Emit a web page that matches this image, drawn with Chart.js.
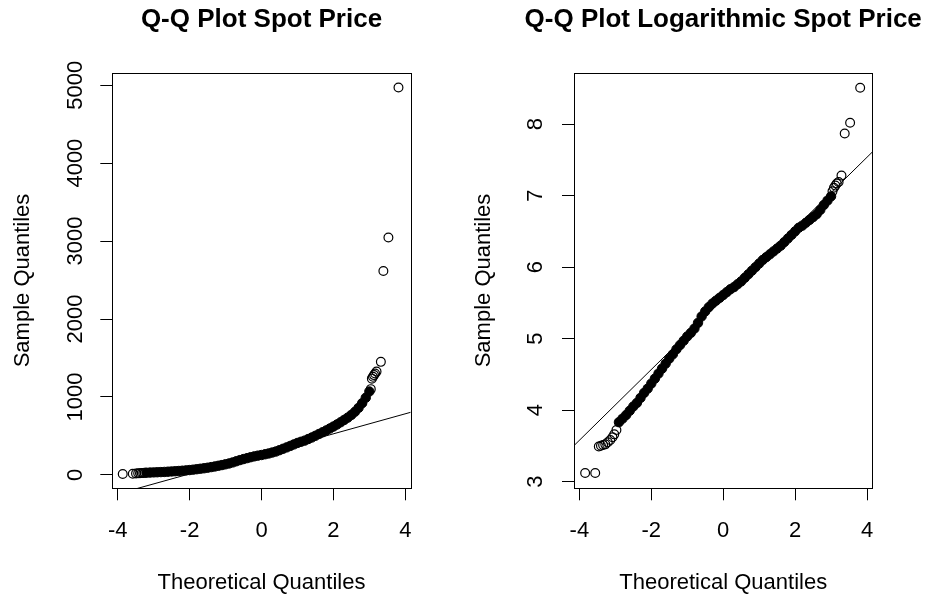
<!DOCTYPE html>
<html>
<head>
<meta charset="utf-8">
<title>Q-Q Plots Spot Price</title>
<script src="https://cdn.jsdelivr.net/npm/chart.js@4.4.1/dist/chart.umd.min.js"></script>
<style>
  html, body { margin: 0; padding: 0; background: #fff; }
  #wrap { position: relative; width: 927px; height: 595px; }
  canvas { position: absolute; top: 0; }
  #spot { left: 0; }
  #logspot { left: 463px; }
</style>
</head>
<body>
<div id="wrap">
  <canvas id="spot" width="463" height="595"></canvas>
  <canvas id="logspot" width="464" height="595"></canvas>
</div>
<script>
// ticks
const xTicks = [-4, -2, 0, 2, 4];
const spotTicks = [0, 1000, 2000, 3000, 4000, 5000];
const logTicks = [3, 4, 5, 6, 7, 8];

// spot price: dense middle part of the sample
const spotTheo = [-3.2, -3.1, -3.0, -2.9, -2.8, -2.7, -2.6, -2.5, -2.4, -2.3, -2.2, -2.1,
  -2.0, -1.9, -1.8, -1.7, -1.6, -1.5, -1.4, -1.3, -1.2, -1.1, -1.0, -0.9, -0.8, -0.7,
  -0.6, -0.5, -0.4, -0.3, -0.2, -0.1, 0.0, 0.1, 0.2, 0.3, 0.4, 0.5, 0.6, 0.7, 0.8, 0.9,
  1.0, 1.1, 1.2, 1.3, 1.4, 1.5, 1.6, 1.7, 1.8, 1.9, 2.0, 2.1, 2.2, 2.3, 2.4, 2.5, 2.6,
  2.7, 2.8, 2.9, 3.0];
const spotSample = [28, 30, 32, 34, 36, 38, 41, 44, 47, 50, 54, 58,
  62, 67, 73, 79, 85, 92, 100, 108, 117, 126, 136, 147, 160, 175,
  190, 203, 215, 227, 238, 247, 255, 265, 275, 287, 300, 317, 335, 353, 372, 391,
  410, 425, 440, 460, 480, 502, 525, 547, 570, 595, 620, 647, 675, 705, 735, 770, 810,
  860, 920, 990, 1070];
// spot price: sparse tails
const spotTailTheo = [-3.86, -3.58, -3.49, -3.43, -3.38, -3.33, -3.29, -3.25,
  3.04, 3.07, 3.10, 3.13, 3.16, 3.20, 3.32, 3.39, 3.53, 3.81];
const spotTailSample = [12, 14, 17, 20, 22, 24, 25, 26,
  1100, 1235, 1258, 1280, 1300, 1325, 1450, 2615, 3045, 4970];
const spotLineIntercept = 270;
const spotLineSlope = 128.5;

// log spot price: dense middle part
const logTheo = [-2.9, -2.8, -2.7, -2.6, -2.5, -2.4, -2.3, -2.2, -2.1, -2.0,
  -1.9, -1.8, -1.7, -1.6, -1.5, -1.4, -1.3, -1.2, -1.1, -1.0, -0.9, -0.8, -0.7,
  -0.6, -0.5, -0.4, -0.3, -0.2, -0.1, 0.0, 0.1, 0.2, 0.3, 0.4, 0.5, 0.6, 0.7, 0.8,
  0.9, 1.0, 1.1, 1.2, 1.3, 1.4, 1.5, 1.6, 1.7, 1.8, 1.9, 2.0, 2.1, 2.2, 2.3, 2.4,
  2.5, 2.6, 2.7, 2.8, 2.9, 3.0];
const logSample = [3.83, 3.88, 3.93, 3.99, 4.05, 4.10, 4.17, 4.24, 4.30, 4.37,
  4.44, 4.51, 4.58, 4.65, 4.72, 4.78, 4.85, 4.91, 4.97, 5.03, 5.08, 5.14, 5.22,
  5.31, 5.38, 5.44, 5.49, 5.53, 5.57, 5.61, 5.65, 5.69, 5.72, 5.76, 5.80, 5.85, 5.90, 5.95,
  6.00, 6.05, 6.10, 6.14, 6.18, 6.22, 6.26, 6.30, 6.35, 6.40, 6.45, 6.50, 6.55, 6.58, 6.62, 6.66,
  6.70, 6.74, 6.80, 6.87, 6.93, 6.99];
// log spot price: sparse tails
const logTailTheo = [-3.84, -3.56, -3.46, -3.40, -3.34, -3.28, -3.21, -3.14, -3.08, -3.03, -2.97,
  3.04, 3.08, 3.12, 3.16, 3.21, 3.29, 3.38, 3.53, 3.81];
const logTailSample = [3.12, 3.12, 3.49, 3.50, 3.51, 3.52, 3.55, 3.58, 3.62, 3.66, 3.72,
  7.06, 7.11, 7.14, 7.17, 7.19, 7.28, 7.87, 8.02, 8.51];
const logLineIntercept = 5.557;
const logLineSlope = 0.495;

Chart.defaults.font.family = "'Liberation Sans', Arial, Helvetica, sans-serif";
Chart.defaults.color = '#000';

// frame around the plotting region + main title centred over it
const plotBox = {
  id: 'plotBox',
  afterDraw(chart, args, opts) {
    const a = chart.chartArea, ctx = chart.ctx;
    const l = Math.round(a.left) + 0.5, t = Math.round(a.top) + 0.5;
    const r = Math.round(a.right) + 0.5, b = Math.round(a.bottom) + 0.5;
    ctx.save();
    ctx.strokeStyle = '#000';
    ctx.lineWidth = 1;
    ctx.strokeRect(l, t, r - l, b - t);
    ctx.fillStyle = '#000';
    ctx.font = "bold 26px 'Liberation Sans', Arial, Helvetica, sans-serif";
    ctx.textAlign = 'center';
    ctx.textBaseline = 'middle';
    ctx.fillText(opts.text, (a.left + a.right) / 2, 20);
    ctx.restore();
  }
};

function toPoints(xs, ys) {
  return xs.map((x, i) => ({x: x, y: ys[i]}));
}

function qqChart(id, o) {
  const xmin = -4.15, xmax = 4.15;
  return new Chart(document.getElementById(id), {
    type: 'scatter',
    data: {
      datasets: [
        {
          // reference line through the quartiles
          data: [{x: xmin, y: o.a + o.b * xmin}, {x: xmax, y: o.a + o.b * xmax}],
          showLine: true, borderColor: '#000', borderWidth: 1, pointRadius: 0
        },
        {
          data: toPoints(o.bodyX, o.bodyY),
          pointRadius: 4.7, backgroundColor: '#000', borderColor: '#000', borderWidth: 1
        },
        {
          data: toPoints(o.tailX, o.tailY),
          pointRadius: 4.4, backgroundColor: 'rgba(0,0,0,0)', borderColor: '#000', borderWidth: 1.2
        }
      ]
    },
    options: {
      responsive: false,
      animation: false,
      devicePixelRatio: 1,
      events: [],
      layout: { padding: { left: 0, top: 72.7, right: o.padRight, bottom: 0 } },
      plugins: {
        legend: { display: false },
        tooltip: { enabled: false },
        title: { display: false },
        plotBox: { text: o.title }
      },
      scales: {
        x: {
          type: 'linear', min: xmin, max: xmax,
          afterBuildTicks: s => { s.ticks = xTicks.map(v => ({value: v})); },
          afterFit: s => { s.height = 106.7; },
          grid: { drawOnChartArea: false, drawTicks: true, tickLength: 12, color: '#000' },
          border: { display: false },
          ticks: { padding: 17, font: { size: 22 }, autoSkip: false, maxRotation: 0, callback: v => String(v) },
          title: { display: true, text: 'Theoretical Quantiles', font: { size: 22 }, padding: { top: 0, bottom: -1.2 } }
        },
        y: {
          type: 'linear', min: o.ymin, max: o.ymax,
          afterBuildTicks: s => { s.ticks = o.yTicks.map(v => ({value: v})); },
          afterFit: s => { s.width = o.yWidth; },
          grid: { drawOnChartArea: false, drawTicks: true, tickLength: 12, color: '#000' },
          border: { display: false },
          ticks: {
            padding: o.yPad, font: { size: 22 }, autoSkip: false,
            minRotation: 90, maxRotation: 90, crossAlign: 'center',
            callback: v => String(v)
          },
          title: { display: true, text: 'Sample Quantiles', font: { size: 22 }, padding: { top: o.yTitlePad, bottom: 0 } }
        }
      }
    },
    plugins: [plotBox]
  });
}

qqChart('spot', {
  title: 'Q-Q Plot Spot Price',
  bodyX: spotTheo, bodyY: spotSample,
  tailX: spotTailTheo, tailY: spotTailSample,
  a: spotLineIntercept, b: spotLineSlope,
  ymin: -172, ymax: 5160, yTicks: spotTicks,
  yWidth: 112.3, padRight: 52.3, yPad: 0.3, yTitlePad: 9.8
});

qqChart('logspot', {
  title: 'Q-Q Plot Logarithmic Spot Price',
  bodyX: logTheo, bodyY: logSample,
  tailX: logTailTheo, tailY: logTailSample,
  a: logLineIntercept, b: logLineSlope,
  ymin: 2.905, ymax: 8.72, yTicks: logTicks,
  yWidth: 111, padRight: 54.6, yPad: 19.9, yTitlePad: 7.8
});
</script>
</body>
</html>
